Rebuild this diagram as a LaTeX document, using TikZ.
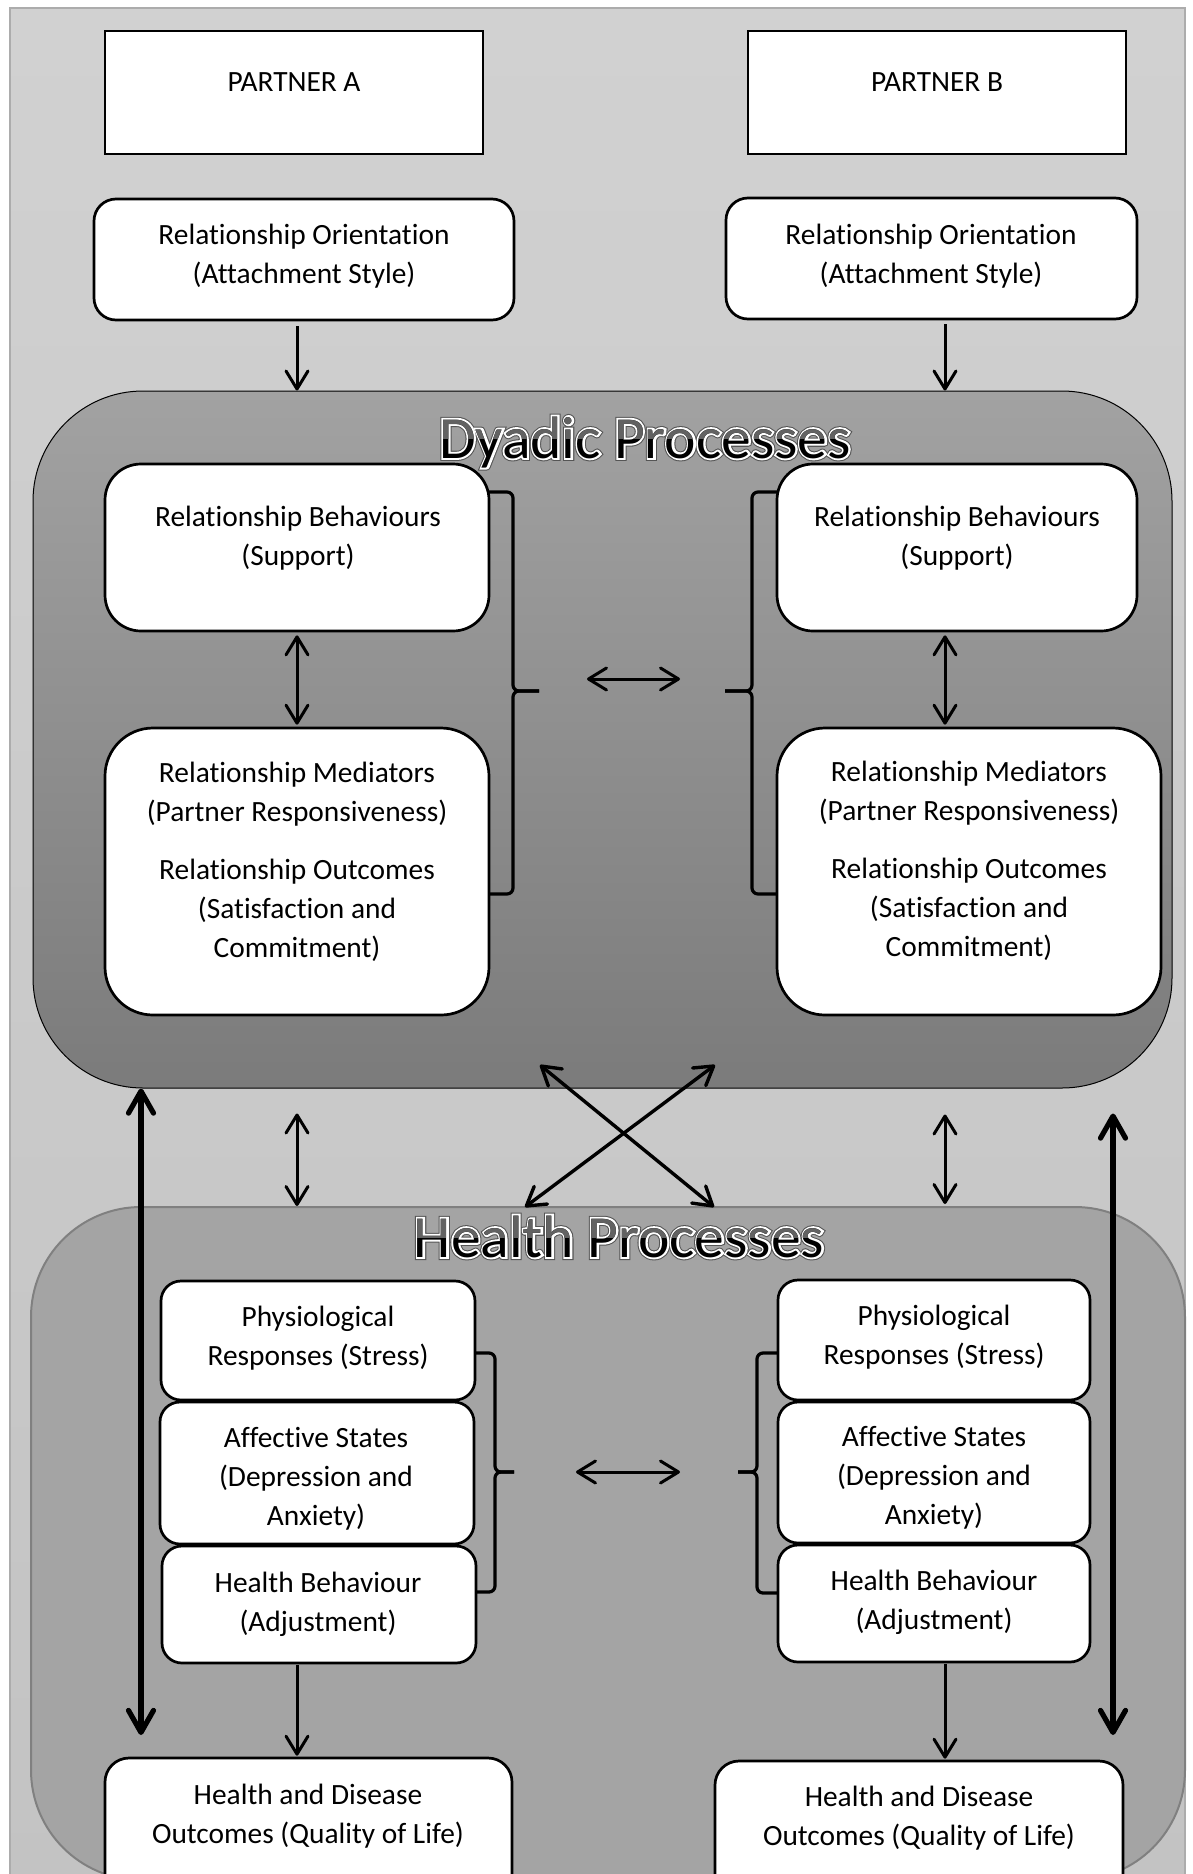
\documentclass[tikz,border=0pt]{standalone}
\usepackage{fontspec}
\setmainfont{Carlito}[Ligatures=NoCommon]
\newfontfamily\headrimfont{Carlito}[Ligatures=NoCommon,FakeBold=10]
\newfontfamily\headhalofont{Carlito}[Ligatures=NoCommon,FakeBold=6.5]
\usetikzlibrary{arrows.meta,fit,calc}

\definecolor{bgtop}{RGB}{209,209,209}
\definecolor{bgbot}{RGB}{195,195,195}
\definecolor{bgedge}{RGB}{172,172,172}
\definecolor{dyadtop}{RGB}{162,162,162}
\definecolor{dyadbot}{RGB}{123,123,123}
\definecolor{healthfill}{RGB}{164,164,164}
\definecolor{healthedge}{RGB}{128,128,128}
\definecolor{titletop}{RGB}{98,98,98}
\definecolor{titlerim}{RGB}{85,85,85}

% outlined section heading: dark rim, white halo, black letters with a grey upper band
\newcommand\procheading[3]{%
  \node[headtxt, font=\headrimfont\headsize, text=titlerim] at (#2) {#3};
  \node[headtxt, font=\headhalofont\headsize, text=white] at (#2) {#3};
  \node[headtxt] (#1) at (#2) {#3};
  \begin{scope}
    \clip ($(#2)+(-260,-70)$) rectangle ($(#2)+(260,-20)$);
    \node[headtxt, text=titletop] at (#2) {#3};
  \end{scope}
}
\newcommand\headsize{\fontsize{29.8}{34}\selectfont}

\begin{document}
\begin{tikzpicture}[x=0.5pt,y=-0.5pt,
  box/.style={draw=black, line width=1.35pt, fill=white, inner sep=0pt},
  rbox/.style={box, rounded corners=#1},
  txt/.style={align=center, inner sep=0pt, font=\fontsize{14.7}{19.5}\selectfont},
  headtxt/.style={inner sep=0pt, anchor=base, font=\headsize},
  tipn/.tip={Straight Barb[length=9pt,width=11pt,round]},
  tipb/.tip={Straight Barb[length=11pt,width=12.5pt,round]},
  arr/.style={line width=1.5pt, -{tipn}},
  dbl/.style={line width=1.5pt, {tipn}-{tipn}},
  xdbl/.style={line width=1.7pt, {tipn}-{tipn}},
  bigdbl/.style={line width=2.6pt, {tipb}-{tipb}},
  brace/.style={line width=1.6pt, rounded corners=3pt},
]
\useasboundingbox (0,0) rectangle (1193,1874);
\begin{scope}
\clip (0,0) rectangle (1193,1874);

% page panel
\path[draw=bgedge, line width=0.6pt, top color=bgtop, bottom color=bgbot]
  (10,8) rectangle (1185,1900);

% the two process regions
\node[fit={(33,391) (1172,1088)}, inner sep=0pt, draw=black, line width=0.5pt,
      rounded corners=55pt, top color=dyadtop, bottom color=dyadbot] (dyad) {};
\node[fit={(31,1207) (1185,1880)}, inner sep=0pt, draw=healthedge, line width=1pt,
      rounded corners=55pt, fill=healthfill] (health) {};

\procheading{dyadT}{645,458}{Dyadic Processes}
\procheading{healthT}{619,1257}{Health Processes}

% partners
\node[box, fit={(105,31) (483,154)}] (pA) {};
\node[txt] (pAt) at (294,82) {PARTNER A};
\node[box, fit={(748,31) (1126,154)}] (pB) {};
\node[txt] (pBt) at (937,82) {PARTNER B};

% relationship orientation
\node[rbox=11pt, fit={(94,199) (514,320)}] (roA) {};
\node[txt] (roAt) at (304,256) {Relationship Orientation\\(Attachment Style)};
\node[rbox=11pt, fit={(726,198) (1137,319)}] (roB) {};
\node[txt] (roBt) at (931,256) {Relationship Orientation\\(Attachment Style)};

% dyadic boxes
\node[rbox=18pt, fit={(105,464) (489,631)}] (rbA) {};
\node[txt] (rbAt) at (298,538) {Relationship Behaviours\\(Support)};
\node[rbox=18pt, fit={(777,464) (1137,631)}] (rbB) {};
\node[txt] (rbBt) at (957,538) {Relationship Behaviours\\(Support)};

\node[rbox=24pt, fit={(105,728) (489,1015)}] (rmA) {};
\node[txt] (rmAt) at (297,862) {Relationship Mediators\\(Partner Responsiveness)\\[9.5pt]Relationship Outcomes\\(Satisfaction and\\Commitment)};
\node[rbox=24pt, fit={(777,728) (1161,1015)}] (rmB) {};
\node[txt] (rmBt) at (969,861) {Relationship Mediators\\(Partner Responsiveness)\\[9.5pt]Relationship Outcomes\\(Satisfaction and\\Commitment)};

% dyadic braces
\draw[brace] (489,492) -- (513,492) -- (513,691) -- (539,691);
\draw[brace] (539,691) -- (513,691) -- (513,894) -- (489,894);
\draw[brace] (777,492) -- (752,492) -- (752,691) -- (725,691);
\draw[brace] (725,691) -- (752,691) -- (752,894) -- (777,894);

% health boxes
\node[rbox=10pt, fit={(161,1281) (475,1400)}] (phA) {};
\node[txt] (phAt) at (318,1338) {Physiological\\Responses (Stress)};
\node[rbox=10pt, fit={(160,1402) (474,1544)}] (afA) {};
\node[txt] (afAt) at (316,1479) {Affective States\\(Depression and\\Anxiety)};
\node[rbox=10pt, fit={(162,1546) (476,1663)}] (hbA) {};
\node[txt] (hbAt) at (318,1604) {Health Behaviour\\(Adjustment)};

\node[rbox=10pt, fit={(778,1280) (1090,1400)}] (phB) {};
\node[txt] (phBt) at (934,1337) {Physiological\\Responses (Stress)};
\node[rbox=10pt, fit={(778,1402) (1090,1543)}] (afB) {};
\node[txt] (afBt) at (934,1478) {Affective States\\(Depression and\\Anxiety)};
\node[rbox=10pt, fit={(778,1545) (1090,1662)}] (hbB) {};
\node[txt] (hbBt) at (934,1602) {Health Behaviour\\(Adjustment)};

% health braces
\draw[brace] (475,1353) -- (495,1353) -- (495,1472) -- (514,1472);
\draw[brace] (514,1472) -- (495,1472) -- (495,1592) -- (475,1592);
\draw[brace] (777,1353) -- (757,1353) -- (757,1472) -- (738,1472);
\draw[brace] (738,1472) -- (757,1472) -- (757,1593) -- (777,1593);

% outcomes
\node[rbox=12pt, fit={(105,1758) (512,1900)}] (outA) {};
\node[txt] (outAt) at (308,1816) {Health and Disease\\Outcomes (Quality of Life)};
\node[rbox=12pt, fit={(715,1761) (1123,1900)}] (outB) {};
\node[txt] (outBt) at (919,1818) {Health and Disease\\Outcomes (Quality of Life)};

% connector columns
\coordinate (colA) at (297,0);
\coordinate (colB) at (945,0);
\coordinate (colL) at (141,0);
\coordinate (colR) at (1113,0);
\coordinate (longEnd) at (0,1735);

% arrows
\draw[arr, shorten <=2.5pt] (roA.south -| colA) -- (dyad.north -| colA);
\draw[arr, shorten <=2pt] (roB.south -| colB) -- (dyad.north -| colB);
\draw[dbl, shorten <=1.5pt, shorten >=1pt] (rbA.south -| colA) -- (rmA.north -| colA);
\draw[dbl, shorten <=1.5pt, shorten >=1pt] (rbB.south -| colB) -- (rmB.north -| colB);

\coordinate (dArrL) at (587,679);
\coordinate (dArrR) at (680,679);
\draw[dbl] (dArrL) -- (dArrR);
\coordinate (hArrL) at (576,1472);
\coordinate (hArrR) at (680,1472);
\draw[dbl] (hArrL) -- (hArrR);

\draw[dbl, shorten <=12.5pt] (dyad.south -| colA) -- (health.north -| colA);
\draw[dbl, shorten <=13pt, shorten >=1pt] (dyad.south -| colB) -- (health.north -| colB);

\coordinate (x1a) at (540,1065);
\coordinate (x1b) at (714,1207);
\coordinate (x2a) at (715,1065);
\coordinate (x2b) at (525,1207);
\draw[xdbl] (x1a) -- (x1b);
\draw[xdbl] (x2a) -- (x2b);

\draw[bigdbl] (dyad.south -| colL) -- (longEnd -| colL);
\draw[bigdbl, shorten <=12.5pt] (dyad.south -| colR) -- (longEnd -| colR);

\draw[arr, shorten <=0.5pt, shorten >=0.5pt] (hbA.south -| colA) -- (outA.north -| colA);
\draw[arr, shorten <=0.5pt, shorten >=0.5pt] (hbB.south -| colB) -- (outB.north -| colB);
\end{scope}
\end{tikzpicture}
\end{document}
